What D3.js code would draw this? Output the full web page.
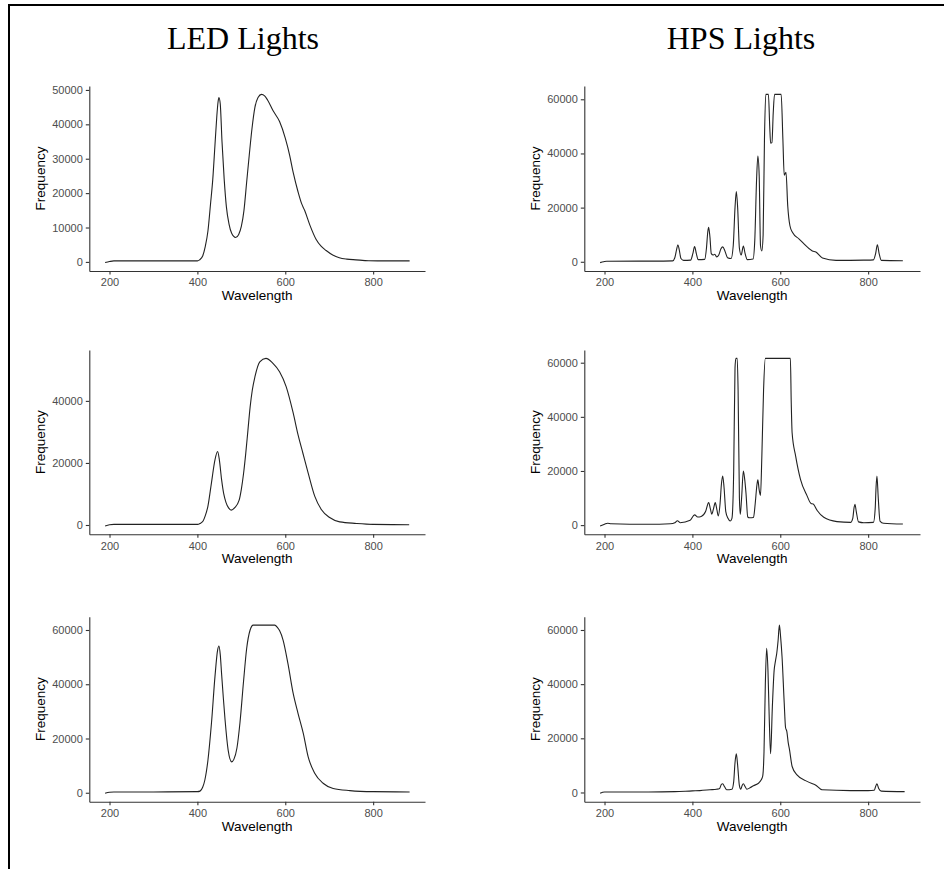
<!DOCTYPE html>
<html>
<head>
<meta charset="utf-8">
<script src="https://cdn.jsdelivr.net/npm/d3@7"></script>
<style>
  body { margin: 0; background: #fff; }
  .tick text { font-family: "Liberation Sans", Arial, sans-serif; font-size: 11px; fill: #4d4d4d; }
  .axis path, .axis line { stroke: #333; stroke-width: 1.1; }
  .axisTitle { font-family: "Liberation Sans", Arial, sans-serif; font-size: 13.5px; fill: #000; }
  .colTitle { font-family: "Liberation Serif", "Times New Roman", serif; font-size: 32px; fill: #000; }
  .spectrum { fill: none; stroke: #222; stroke-width: 1.1; stroke-linejoin: round; }
</style>
</head>
<body>
<script>
(function(){

    //column titles
    var columnTitles = ["LED Lights", "HPS Lights"];

    //x ticks shared by every panel
    var waveTicks = [200, 400, 600, 800];

    //y ticks per panel
    var ledTopTicks = [0, 10000, 20000, 30000, 40000, 50000];
    var ledMidTicks = [0, 20000, 40000];
    var ledBotTicks = [0, 20000, 40000, 60000];
    var hpsTopTicks = [0, 20000, 40000, 60000];
    var hpsMidTicks = [0, 20000, 40000, 60000];
    var hpsBotTicks = [0, 20000, 40000, 60000];

    //spectra: [wavelength, frequency]
    var ledTop = [[190,-200],[200,100],[210,300],[300,300],[400,300],[405,600],[412,1700],[418,4500],[424,9000],[430,17000],[435,24000],[440,34000],[444,42000],[447,46500],[449,47800],[452,46000],[456,35000],[461,24000],[466,16000],[472,11000],[478,8300],[487,7100],[494,8000],[500,10300],[506,15000],[512,23000],[518,31000],[524,38500],[531,45000],[538,47800],[546,48700],[553,48300],[560,47000],[572,44000],[587,40800],[600,36000],[610,31000],[618,26000],[629,20400],[637,17000],[644,15000],[656,10700],[670,6600],[682,4500],[693,3300],[708,2000],[723,1200],[740,800],[761,600],[790,350],[830,300],[883,300]];

    var ledMid = [[190,-300],[200,100],[210,200],[300,200],[400,200],[406,500],[413,1300],[418,3000],[424,6100],[432,13600],[440,21000],[446,23700],[450,21000],[455,14700],[460,10000],[465,7300],[471,5500],[477,4800],[485,5600],[495,8000],[500,11500],[505,16500],[510,23000],[515,30500],[520,38000],[525,43500],[531,47800],[542,52600],[556,53700],[572,52100],[587,49400],[602,44600],[618,36100],[629,29100],[640,23200],[652,16800],[667,9300],[682,5000],[701,2400],[724,1000],[762,500],[800,200],[882,100]];

    var ledBot = [[190,-200],[200,200],[210,300],[300,300],[400,400],[406,600],[412,2000],[417,4700],[424,12000],[432,25600],[440,42800],[446,52600],[449,54100],[452,51000],[455,44000],[459,35000],[463,26800],[470,15700],[478,11400],[483,12300],[490,16500],[497,26000],[505,41000],[512,53000],[520,60000],[527,61800],[576,61800],[582,61000],[587,59800],[595,56300],[606,47700],[618,36600],[629,29300],[641,21900],[652,13300],[667,7200],[686,3500],[709,1600],[747,800],[800,400],[883,300]];

    var hpsTop = [[190,-300],[198,0],[205,200],[300,250],[355,350],[360,1500],[364,4500],[367,6300],[370,4500],[374,1200],[380,500],[396,600],[401,3000],[405,5600],[409,3000],[413,800],[428,900],[432,5000],[435,11000],[437,12700],[440,9000],[443,3000],[447,2500],[451,2800],[455,1800],[460,2500],[465,4800],[469,5500],[474,4000],[480,1500],[488,1200],[493,6000],[497,20000],[500,25900],[503,20000],[507,5000],[511,2500],[516,5800],[520,3000],[525,800],[538,1000],[542,8000],[546,30000],[549,39000],[552,32000],[555,6000],[558,4000],[561,10000],[564,45000],[567,61800],[573,61800],[576,50000],[578,43800],[581,44000],[584,55000],[587,61800],[602,61800],[606,45000],[609,32000],[613,33000],[617,20600],[622,13300],[628,10800],[643,8400],[666,4800],[673,4000],[681,3600],[696,1400],[727,500],[790,600],[812,700],[817,3000],[821,6300],[825,3000],[830,500],[879,400]];

    var hpsMid = [[190,-300],[200,300],[207,700],[215,500],[300,300],[350,500],[360,900],[366,1600],[372,900],[395,1800],[405,3800],[412,3000],[420,3200],[430,5000],[437,8300],[441,6000],[444,4000],[448,6000],[452,8300],[456,5500],[459,3400],[463,8000],[466,15000],[469,18100],[472,14000],[476,5000],[481,2500],[486,1500],[490,2500],[494,20000],[497,58000],[499,61600],[502,61600],[504,50000],[507,10000],[509,4000],[512,10000],[516,20000],[519,17000],[522,11800],[526,3000],[530,2700],[539,2800],[543,8000],[547,15000],[549,16700],[552,13000],[555,11000],[558,25000],[562,50000],[566,61600],[623,61600],[625,45000],[627,34000],[635,25500],[646,16900],[661,10800],[670,8000],[675,7800],[684,5400],[699,2900],[729,1300],[760,1000],[765,2500],[768,6500],[770,7700],[773,5000],[778,1200],[790,900],[812,1000],[816,6000],[818,14000],[820,18100],[823,10000],[827,1500],[835,700],[879,400]];

    var hpsBot = [[190,-300],[200,200],[300,200],[360,300],[400,600],[417,700],[440,1000],[455,1200],[462,1500],[466,3000],[469,3200],[473,2200],[478,1000],[490,1200],[494,4000],[497,11000],[500,14300],[503,10000],[507,2500],[510,1200],[513,2500],[516,3200],[520,2200],[524,1200],[532,1800],[539,2500],[551,3500],[556,4500],[560,6000],[563,15000],[566,40000],[569,53200],[572,45000],[575,26800],[578,14300],[582,31700],[586,45000],[589,48500],[592,51400],[595,56000],[598,61800],[601,57000],[604,50200],[609,33000],[612,24000],[615,22500],[618,18500],[621,15800],[627,9600],[638,6500],[661,4100],[672,3300],[680,2800],[695,1000],[760,700],[800,700],[814,800],[817,2200],[820,3200],[824,1500],[830,500],[883,300]];

    window.onload = setPage();

    function setPage(){
        var width = 944,
            height = 869;

        var svg = d3.select("body")
            .append("svg")
            .attr("width", width)
            .attr("height", height);

        //frame lines (top and left only)
        svg.append("line")
            .attr("x1", 8).attr("x2", width)
            .attr("y1", 5).attr("y2", 5)
            .attr("stroke", "#000").attr("stroke-width", 2);
        svg.append("line")
            .attr("x1", 9).attr("x2", 9)
            .attr("y1", 4).attr("y2", height)
            .attr("stroke", "#000").attr("stroke-width", 2);

        //column titles
        var titleX = [243, 741];
        columnTitles.forEach(function(t, i){
            svg.append("text")
                .attr("class", "colTitle")
                .attr("x", titleX[i])
                .attr("y", 49)
                .attr("text-anchor", "middle")
                .text(t);
        });

        //panel frames: left edge of plot, top and bottom of plot
        var colLeft = [89.3, 584.3],
            plotWidth = 335.7,
            rows = [[86, 271], [350, 534.3], [616.7, 801.7]];

        var panels = [
            [ledTop, ledTopTicks, 0, 0],
            [hpsTop, hpsTopTicks, 1, 0],
            [ledMid, ledMidTicks, 0, 1],
            [hpsMid, hpsMidTicks, 1, 1],
            [ledBot, ledBotTicks, 0, 2],
            [hpsBot, hpsBotTicks, 1, 2]
        ];

        panels.forEach(function(p){
            drawPanel(svg, p[0], p[1], colLeft[p[2]], plotWidth, rows[p[3]][0], rows[p[3]][1]);
        });
    };

    function drawPanel(svg, data, yTicks, left, plotWidth, top, bottom){
        var g = svg.append("g");

        var xScale = d3.scaleLinear()
            .domain([154, 918])
            .range([left, left + plotWidth]);

        //ggplot style 5% padding on the value range
        var ext = d3.extent(data, function(d){ return d[1]; }),
            pad = (ext[1] - ext[0]) * 0.05;
        var yScale = d3.scaleLinear()
            .domain([ext[0] - pad, ext[1] + pad])
            .range([bottom, top]);

        var line = d3.line()
            .x(function(d){ return xScale(d[0]); })
            .y(function(d){ return yScale(d[1]); })
            .curve(d3.curveMonotoneX);

        g.append("path")
            .datum(data)
            .attr("class", "spectrum")
            .attr("d", line);

        g.append("g")
            .attr("class", "axis")
            .attr("transform", "translate(0," + bottom + ")")
            .call(d3.axisBottom(xScale).tickValues(waveTicks).tickSize(3.5).tickSizeOuter(0).tickPadding(4))
            .call(function(a){ a.selectAll("text").attr("font-size", null).attr("font-family", null).attr("fill", null); });

        g.append("g")
            .attr("class", "axis")
            .attr("transform", "translate(" + left + ",0)")
            .call(d3.axisLeft(yScale).tickValues(yTicks).tickFormat(d3.format("d")).tickSize(3.5).tickSizeOuter(0).tickPadding(3))
            .call(function(a){ a.selectAll("text").attr("font-size", null).attr("font-family", null).attr("fill", null); });

        g.selectAll(".axis").attr("font-size", null).attr("font-family", null);

        g.append("text")
            .attr("class", "axisTitle")
            .attr("x", left + plotWidth / 2)
            .attr("y", bottom + 29)
            .attr("text-anchor", "middle")
            .text("Wavelength");

        g.append("text")
            .attr("class", "axisTitle")
            .attr("transform", "translate(" + (left - 44) + "," + ((top + bottom) / 2) + ") rotate(-90)")
            .attr("text-anchor", "middle")
            .text("Frequency");
    };

})();
</script>
</body>
</html>
